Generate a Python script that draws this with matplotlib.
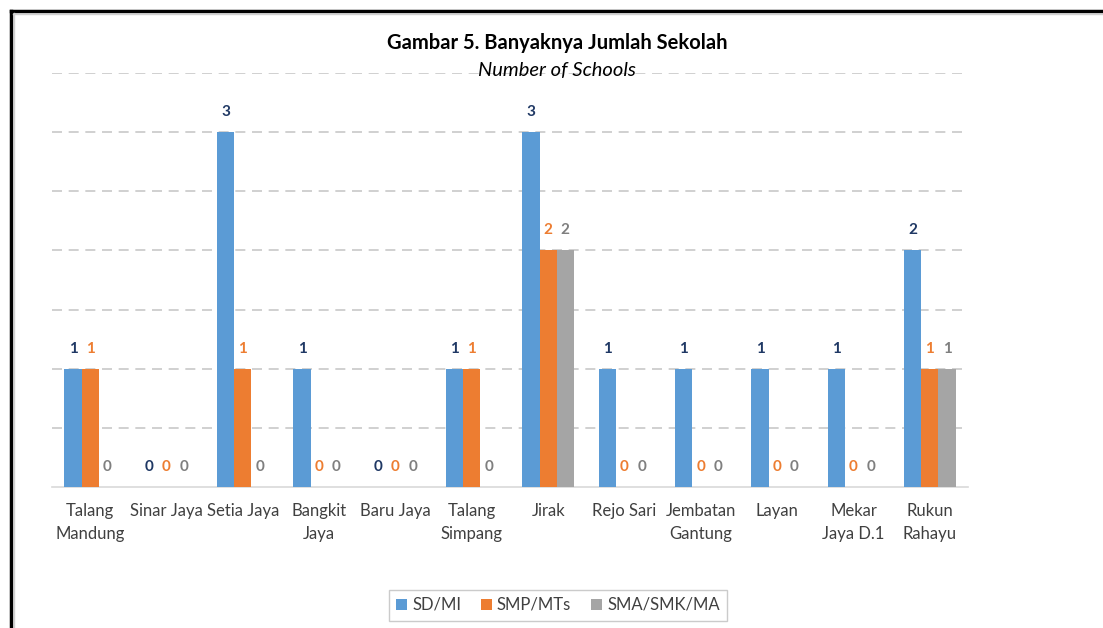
import numpy as np
import matplotlib
matplotlib.use('Agg')
import matplotlib.pyplot as plt
from matplotlib.lines import Line2D

plt.rcParams['font.family'] = ['Lato', 'DejaVu Sans']

categories = ['Talang\nMandung', 'Sinar Jaya', 'Setia Jaya', 'Bangkit\nJaya', 'Baru Jaya',
              'Talang\nSimpang', 'Jirak', 'Rejo Sari', 'Jembatan\nGantung', 'Layan',
              'Mekar\nJaya D.1', 'Rukun\nRahayu']
sd_mi = [1, 0, 3, 1, 0, 1, 3, 1, 1, 1, 1, 2]
smp_mts = [1, 0, 1, 0, 0, 1, 2, 0, 0, 0, 0, 1]
sma_smk_ma = [0, 0, 0, 0, 0, 0, 2, 0, 0, 0, 0, 1]
series_names = ['SD/MI', 'SMP/MTs', 'SMA/SMK/MA']

bar_colors = ['#5B9BD5', '#ED7D31', '#A5A5A5']
label_colors = ['#1F3864', '#ED7D31', '#7F7F7F']

W, H = 1103, 628
fig = plt.figure(figsize=(W / 100, H / 100), dpi=100)
ax = fig.add_axes([52 / W, 1 - 487 / H, (968 - 52) / W, (487 - 73) / H])

x = np.arange(len(categories))
bw = 0.225
for i, (vals, col, lcol, name) in enumerate(zip([sd_mi, smp_mts, sma_smk_ma],
                                                 bar_colors, label_colors, series_names)):
    pos = x + (i - 1) * bw
    ax.bar(pos, vals, width=bw, color=col, label=name, zorder=3)
    for px, v in zip(pos, vals):
        ax.text(px, v + 0.11, str(v), ha='center', va='bottom', fontsize=11,
                fontweight='bold', color=lcol, zorder=4)

ax.set_xlim(-0.5, len(categories) - 0.5)
ax.set_ylim(0, 3.5)
ax.set_yticks(np.arange(0.5, 3.51, 0.5))
ax.yaxis.grid(True, color='#C8C8C8', linestyle=(0, (6, 4)), linewidth=1.2, zorder=0)
ax.tick_params(axis='y', left=False, labelleft=False)
ax.tick_params(axis='x', bottom=False, labelsize=12, labelcolor='#404040', pad=8)
ax.set_xticks(x)
ax.set_xticklabels(categories, linespacing=1.55)
for s in ['top', 'right', 'left']:
    ax.spines[s].set_visible(False)
ax.spines['bottom'].set_color('#D9D9D9')
ax.spines['bottom'].set_linewidth(1.2)

fig.text(557 / W, 1 - 43 / H, 'Gambar 5. Banyaknya Jumlah Sekolah', ha='center', va='center',
         fontsize=14.5, fontweight='bold', color='#000000')
fig.text(557 / W, 1 - 70 / H, 'Number of Schools', ha='center', va='center',
         fontsize=14.5, style='italic', color='#000000')

leg = fig.legend(loc='center', bbox_to_anchor=(558 / W, 1 - 605 / H), ncol=3, frameon=True,
                 fontsize=12, handlelength=0.65, handleheight=0.65, handletextpad=0.3,
                 columnspacing=1.2, fancybox=False, borderpad=0.45)
leg.get_frame().set_edgecolor('#BFBFBF')
for t in leg.get_texts():
    t.set_color('#404040')

# frame lines
fig.add_artist(Line2D([11 / W, 1], [1 - 11 / H] * 2, color='black', linewidth=2.5))
fig.add_artist(Line2D([11 / W] * 2, [0, 1 - 11 / H], color='black', linewidth=2.5))
fig.add_artist(Line2D([13 / W, 1], [1 - 13.5 / H] * 2, color='#D0D0D0', linewidth=1))
fig.add_artist(Line2D([13.5 / W] * 2, [0, 1 - 13 / H], color='#D0D0D0', linewidth=1))

fig.savefig('out.png', dpi=100)
